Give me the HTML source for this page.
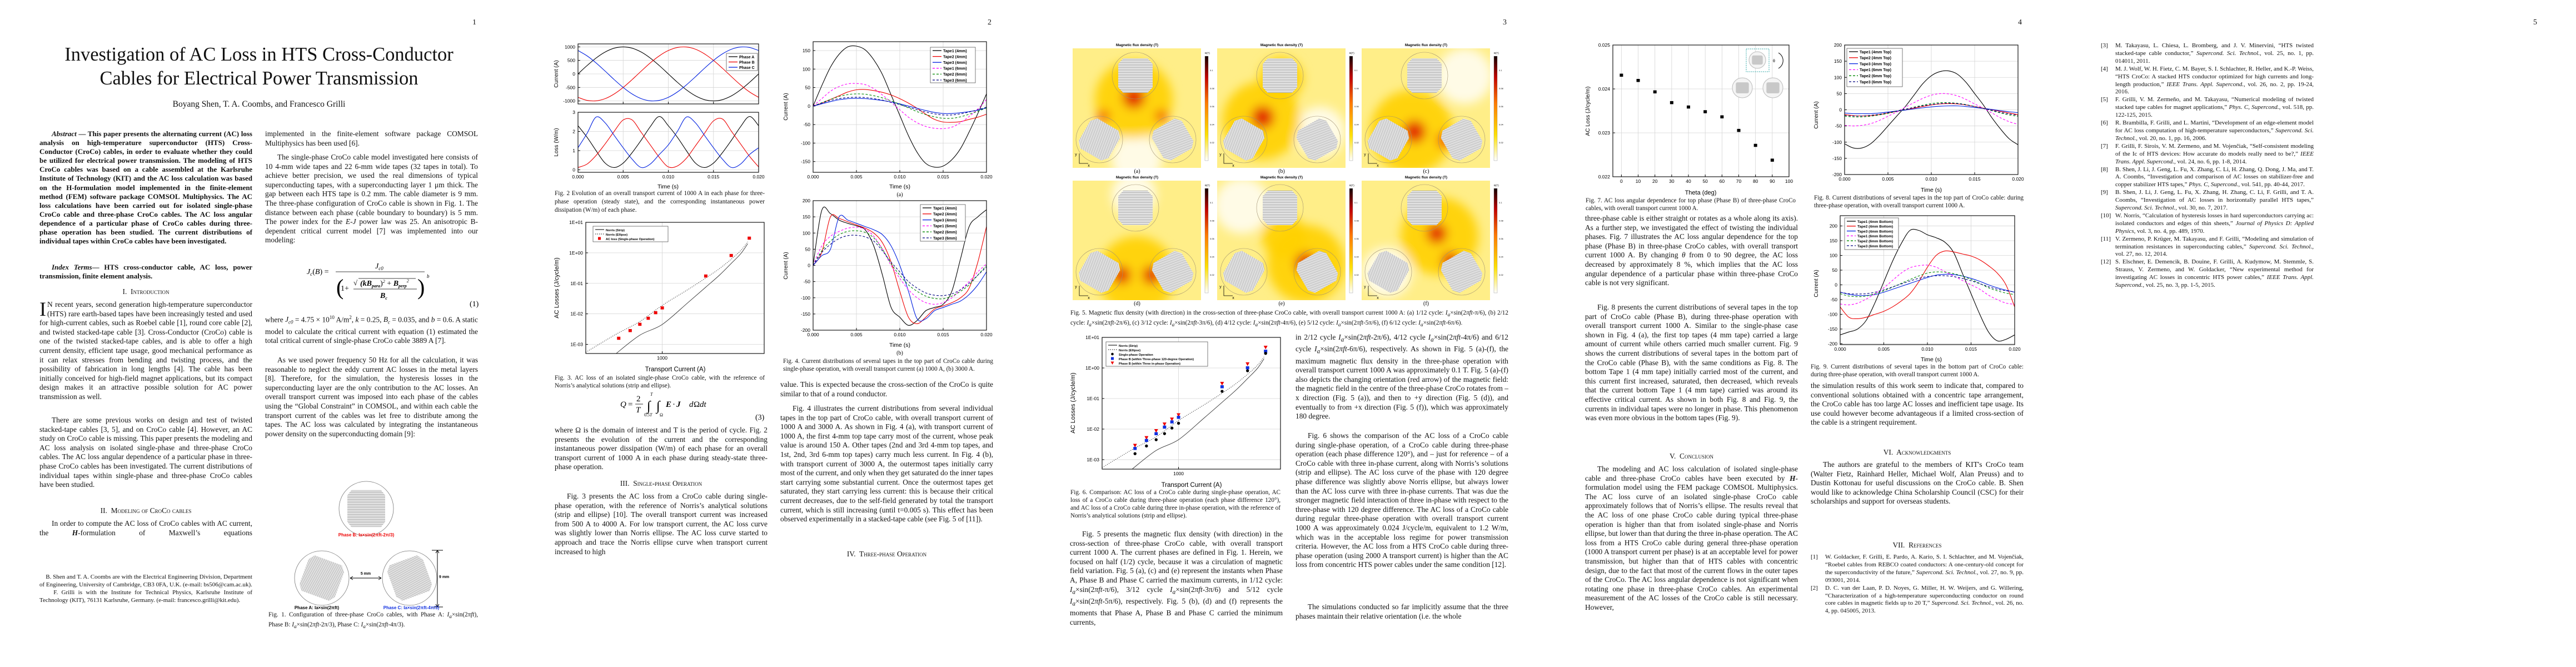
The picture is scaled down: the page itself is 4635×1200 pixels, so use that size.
<!DOCTYPE html>
<html><head><meta charset="utf-8">
<style>
html,body{margin:0;padding:0;background:#fff;}
body{width:4635px;height:1200px;position:relative;overflow:hidden;font-family:"Liberation Serif",serif;color:#111;}
.pg{position:absolute;top:0;width:927px;height:1200px;background:#fff;}
.pn{position:absolute;top:33px;left:850px;font-size:14px;}
.tx{position:absolute;width:383px;font-size:13.4px;line-height:16.6px;text-align:justify;margin:0;}
.ind{text-indent:22px;}
.hd{position:absolute;width:383px;text-align:center;font-size:13.4px;line-height:16px;font-variant:small-caps;}
.cap{position:absolute;font-size:11.2px;line-height:14.2px;text-align:justify;margin:0;}
.ref{position:absolute;width:383px;font-size:11px;line-height:13.9px;}
.ref div{display:flex;text-align:justify;}
.ref div span.n{flex:0 0 26px;}
.ref div span.t{flex:1;}
#ov{position:absolute;left:0;top:0;}
</style></head>
<body>

<!-- PAGE 1 -->
<div class="pg" style="left:0">
<div class="pn">1</div>
<div style="position:absolute;left:40px;width:852px;top:77px;text-align:center;font-size:34.5px;line-height:43px;">Investigation of AC Loss in HTS Cross-Conductor<br>Cables for Electrical Power Transmission</div>
<div style="position:absolute;left:40px;width:852px;top:179px;text-align:center;font-size:15.5px;">Boyang Shen, T. A. Coombs, and Francesco Grilli</div>
<p class="tx" style="left:71px;top:233px;font-weight:bold;font-size:13px;line-height:16.1px;text-indent:22px"><i>Abstract</i> — This paper presents the alternating current (AC) loss analysis on high-temperature superconductor (HTS) Cross-Conductor (CroCo) cables, in order to evaluate whether they could be utilized for electrical power transmission. The modeling of HTS CroCo cables was based on a cable assembled at the Karlsruhe Institute of Technology (KIT) and the AC loss calculation was based on the H-formulation model implemented in the finite-element method (FEM) software package COMSOL Multiphysics. The AC loss calculations have been carried out for isolated single-phase CroCo cable and three-phase CroCo cables. The AC loss angular dependence of a particular phase of CroCo cables during three-phase operation has been studied. The current distributions of individual tapes within CroCo cables have been investigated.</p>
<p class="tx" style="left:71px;top:473px;font-weight:bold;font-size:13px;line-height:16.1px;text-indent:22px"><i>Index Terms</i>— HTS cross-conductor cable, AC loss, power transmission, finite element analysis.</p>
<div class="hd" style="left:71px;top:517px">I.&nbsp; Introduction</div>
<p class="tx" style="left:71px;top:540px"><span style="float:left;font-size:36px;line-height:30px;margin:1px 2px 0 0">I</span>N recent years, second generation high-temperature superconductor (HTS) rare earth-based tapes have been increasingly tested and used for high-current cables, such as Roebel cable [1], round core cable [2], and twisted stacked-tape cable [3]. Cross-Conductor (CroCo) cable is one of the twisted stacked-tape cables, and is able to offer a high current density, efficient tape usage, good mechanical performance as it can relax stresses from bending and twisting process, and the possibility of fabrication in long lengths [4]. The cable has been initially conceived for high-field magnet applications, but its compact design makes it an attractive possible solution for AC power transmission as well.</p>
<p class="tx ind" style="left:71px;top:748px">There are some previous works on design and test of twisted stacked-tape cables [3, 5], and on CroCo cable [4]. However, an AC study on CroCo cable is missing. This paper presents the modeling and AC loss analysis on isolated single-phase and three-phase CroCo cables. The AC loss angular dependence of a particular phase in three-phase CroCo cables has been investigated. The current distributions of individual tapes within single-phase and three-phase CroCo cables have been studied.</p>
<div class="hd" style="left:71px;top:911px">II.&nbsp; Modeling of CroCo cables</div>
<p class="tx ind" style="left:71px;top:934px;text-align-last:justify">In order to compute the AC loss of CroCo cables with AC current, the <b><i>H</i></b>-formulation of Maxwell’s equations</p>
<p class="cap" style="left:71px;top:1031px;width:383px;font-size:11px;line-height:14px">&nbsp;&nbsp;&nbsp;&nbsp;B. Shen and T. A. Coombs are with the Electrical Engineering Division, Department of Engineering, University of Cambridge, CB3 0FA, U.K. (e-mail: bs506@cam.ac.uk).<br>&nbsp;&nbsp;&nbsp;&nbsp;F. Grilli is with the Institute for Technical Physics, Karlsruhe Institute of Technology (KIT), 76131 Karlsruhe, Germany. (e-mail: francesco.grilli@kit.edu).</p>

<p class="tx" style="left:477px;top:233px">implemented in the finite-element software package COMSOL Multiphysics has been used [6].</p>
<p class="tx ind" style="left:477px;top:275px">The single-phase CroCo cable model investigated here consists of 10 4-mm wide tapes and 22 6-mm wide tapes (32 tapes in total). To achieve better precision, we used the real dimensions of typical superconducting tapes, with a superconducting layer 1 μm thick. The gap between each HTS tape is 0.2 mm. The cable diameter is 9 mm. The three-phase configuration of CroCo cable is shown in Fig. 1. The distance between each phase (cable boundary to boundary) is 5 mm. The power index for the <i>E-J</i> power law was 25. An anisotropic B-dependent critical current model [7] was implemented into our modeling:</p>
<p class="tx" style="left:477px;top:563px">where <i>J<sub style="font-size:9px">c0</sub></i> = 4.75 × 10<sup style="font-size:9px">10</sup> A/m<sup style="font-size:9px">2</sup>, <i>k</i> = 0.25, <i>B<sub style="font-size:9px">c</sub></i> = 0.035, and <i>b</i> = 0.6. A static model to calculate the critical current with equation (1) estimated the total critical current of single-phase CroCo cable 3889 A [7].</p>
<p class="tx ind" style="left:477px;top:640px">As we used power frequency 50 Hz for all the calculation, it was reasonable to neglect the eddy current AC losses in the metal layers [8]. Therefore, for the simulation, the hysteresis losses in the superconducting layer are the only contribution to the AC losses. An overall transport current was imposed into each phase of the cables using the “Global Constraint” in COMSOL, and within each cable the transport current of the cables was let free to distribute among the tapes. The AC loss was calculated by integrating the instantaneous power density on the superconducting domain [9]:</p>
<p class="cap" style="left:483px;top:1099px;width:377px">Fig. 1. Configuration of three-phase CroCo cables, with Phase A: <i>I<sub>a</sub></i>×sin(2<i>πft</i>), Phase B: <i>I<sub>a</sub></i>×sin(2<i>πft</i>-2π/3), Phase C: <i>I<sub>a</sub></i>×sin(2<i>πft</i>-4π/3).</p>
</div>

<!-- PAGE 2 -->
<div class="pg" style="left:927px">
<div class="pn">2</div>
<p class="cap" style="left:71px;top:341px;width:378px;line-height:15px">Fig. 2 Evolution of an overall transport current of 1000 A in each phase for three-phase operation (steady state), and the corresponding instantaneous power dissipation (W/m) of each phase.</p>
<p class="cap" style="left:71px;top:673px;width:378px">Fig. 3. AC loss of an isolated single-phase CroCo cable, with the reference of Norris’s analytical solutions (strip and ellipse).</p>
<p class="tx" style="left:71px;top:766px">where Ω is the domain of interest and T is the period of cycle. Fig. 2 presents the evolution of the current and the corresponding instantaneous power dissipation (W/m) of each phase for an overall transport current of 1000 A in each phase during steady-state three-phase operation.</p>
<div class="hd" style="left:71px;top:862px">III.&nbsp; Single-phase Operation</div>
<p class="tx ind" style="left:71px;top:885px">Fig. 3 presents the AC loss from a CroCo cable during single-phase operation, with the reference of Norris’s analytical solutions (strip and ellipse) [10]. The overall transport current was increased from 500 A to 4000 A. For low transport current, the AC loss curve was slightly lower than Norris ellipse. The AC loss curve started to approach and trace the Norris ellipse curve when transport current increased to high</p>
<p class="cap" style="left:482px;top:643px;width:378px">Fig. 4. Current distributions of several tapes in the top part of CroCo cable during single-phase operation, with overall transport current (a) 1000 A, (b) 3000 A.</p>
<p class="tx" style="left:477px;top:684px">value. This is expected because the cross-section of the CroCo is quite similar to that of a round conductor.</p>
<p class="tx ind" style="left:477px;top:727px">Fig. 4 illustrates the current distributions from several individual tapes in the top part of CroCo cable, with overall transport current of 1000 A and 3000 A. As shown in Fig. 4 (a), with transport current of 1000 A, the first 4-mm top tape carry most of the current, whose peak value is around 150 A. Other tapes (2nd and 3rd 4-mm top tapes, and 1st, 2nd, 3rd 6-mm top tapes) carry much less current. In Fig. 4 (b), with transport current of 3000 A, the outermost tapes initially carry most of the current, and only when they get saturated do the inner tapes start carrying some substantial current. Once the outermost tapes get saturated, they start carrying less current: this is because their critical current decreases, due to the self-field generated by total the transport current, which is still increasing (until t=0.005 s). This effect has been observed experimentally in a stacked-tape cable (see Fig. 5 of [11]).</p>
<div class="hd" style="left:477px;top:989px">IV.&nbsp; Three-phase Operation</div>
</div>

<!-- PAGE 3 -->
<div class="pg" style="left:1854px">
<div class="pn">3</div>
<p class="cap" style="left:72px;top:556px;width:788px">Fig. 5. Magnetic flux density (with direction) in the cross-section of three-phase CroCo cable, with overall transport current 1000 A: (a) 1/12 cycle: <i>I<sub>a</sub></i>×sin(2<i>πft</i>-π/6), (b) 2/12 cycle: <i>I<sub>a</sub></i>×sin(2<i>πft</i>-2π/6), (c) 3/12 cycle: <i>I<sub>a</sub></i>×sin(2<i>πft</i>-3π/6), (d) 4/12 cycle: <i>I<sub>a</sub></i>×sin(2<i>πft</i>-4π/6), (e) 5/12 cycle: <i>I<sub>a</sub></i>×sin(2<i>πft</i>-5π/6), (f) 6/12 cycle: <i>I<sub>a</sub></i>×sin(2<i>πft</i>-6π/6).</p>
<p class="cap" style="left:72px;top:879px;width:378px;line-height:14px">Fig. 6. Comparison: AC loss of a CroCo cable during single-phase operation, AC loss of a CroCo cable during three-phase operation (each phase difference 120°), and AC loss of a CroCo cable during three in-phase operation, with the reference of Norris’s analytical solutions (strip and ellipse).</p>
<p class="tx ind" style="left:71px;top:953px">Fig. 5 presents the magnetic flux density (with direction) in the cross-section of three-phase CroCo cable, with overall transport current 1000 A. The current phases are defined in Fig. 1. Herein, we focused on half (1/2) cycle, because it was a circulation of magnetic field variation. Fig. 5 (a), (c) and (e) represent the instants when Phase A, Phase B and Phase C carried the maximum currents, in 1/12 cycle: <i>I<sub>a</sub></i>×sin(2<i>πft</i>-π/6), 3/12 cycle <i>I<sub>a</sub></i>×sin(2<i>πft</i>-3π/6) and 5/12 cycle <i>I<sub>a</sub></i>×sin(2<i>πft</i>-5π/6), respectively. Fig. 5 (b), (d) and (f) represents the moments that Phase A, Phase B and Phase C carried the minimum currents,</p>
<p class="tx" style="left:477px;top:599px">in 2/12 cycle <i>I<sub>a</sub></i>×sin(2<i>πft</i>-2π/6), 4/12 cycle <i>I<sub>a</sub></i>×sin(2<i>πft</i>-4π/6) and 6/12 cycle <i>I<sub>a</sub></i>×sin(2<i>πft</i>-6π/6), respectively. As shown in Fig. 5 (a)-(f), the maximum magnetic flux density in the three-phase operation with overall transport current 1000 A was approximately 0.1 T. Fig. 5 (a)-(f) also depicts the changing orientation (red arrow) of the magnetic field: the magnetic field in the centre of the three-phase CroCo rotates from –x direction (Fig. 5 (a)), and then to +y direction (Fig. 5 (d)), and eventually to from +x direction (Fig. 5 (f)), which was approximately 180 degree.</p>
<p class="tx ind" style="left:477px;top:776px">Fig. 6 shows the comparison of the AC loss of a CroCo cable during single-phase operation, of a CroCo cable during three-phase operation (each phase difference 120°), and – just for reference – of a CroCo cable with three in-phase current, along with Norris’s solutions (strip and ellipse). The AC loss curve of the phase with 120 degree phase difference was slightly above Norris ellipse, but always lower than the AC loss curve with three in-phase currents. That was due the stronger magnetic field interaction of three in-phase with respect to the three-phase with 120 degree difference. The AC loss of a CroCo cable during regular three-phase operation with overall transport current 1000 A was approximately 0.024 J/cycle/m, equivalent to 1.2 W/m, which was in the acceptable loss regime for power transmission criteria. However, the AC loss from a HTS CroCo cable during three-phase operation (using 2000 A transport current) is higher than the AC loss from concentric HTS power cables under the same condition [12].</p>
<p class="tx ind" style="left:477px;top:1084px">The simulations conducted so far implicitly assume that the three phases maintain their relative orientation (i.e. the whole</p>
</div>

<!-- PAGE 4 -->
<div class="pg" style="left:2781px">
<div class="pn">4</div>
<p class="cap" style="left:72px;top:354px;width:378px">Fig. 7. AC loss angular dependence for top phase (Phase B) of three-phase CroCo cables, with overall transport current 1000 A.</p>
<p class="tx" style="left:71px;top:385px">three-phase cable is either straight or rotates as a whole along its axis). As a further step, we investigated the effect of twisting the individual phases. Fig. 7 illustrates the AC loss angular dependence for the top phase (Phase B) in three-phase CroCo cables, with overall transport current 1000 A. By changing <i>θ</i> from 0 to 90 degree, the AC loss decreased by approximately 8 %, which implies that the AC loss angular dependence of a particular phase within three-phase CroCo cable is not very significant.</p>
<p class="tx ind" style="left:71px;top:545px">Fig. 8 presents the current distributions of several tapes in the top part of CroCo cable (Phase B), during three-phase operation with overall transport current 1000 A. Similar to the single-phase case shown in Fig. 4 (a), the first top tapes (4 mm tape) carried a large amount of current while others carried much smaller current. Fig. 9 shows the current distributions of several tapes in the bottom part of the CroCo cable (Phase B), with the same conditions as Fig. 8. The bottom Tape 1 (4 mm tape) initially carried most of the current, and this current first increased, saturated, then decreased, which reveals that the current bottom Tape 1 (4 mm tape) carried was around its effective critical current. As shown in both Fig. 8 and Fig. 9, the currents in individual tapes were no longer in phase. This phenomenon was even more obvious in the bottom tapes (Fig. 9).</p>
<div class="hd" style="left:71px;top:813px">V.&nbsp; Conclusion</div>
<p class="tx ind" style="left:71px;top:836px">The modeling and AC loss calculation of isolated single-phase cable and three-phase CroCo cables have been executed by <b><i>H</i></b>-formulation model using the FEM package COMSOL Multiphysics. The AC loss curve of an isolated single-phase CroCo cable approximately follows that of Norris’s ellipse. The results reveal that the AC loss of one phase CroCo cable during typical three-phase operation is higher than that from isolated single-phase and Norris ellipse, but lower than that during the three in-phase operation. The AC loss from a HTS CroCo cable during general three-phase operation (1000 A transport current per phase) is at an acceptable level for power transmission, but higher than that of HTS cables with concentric design, due to the fact that most of the current flows in the outer tapes of the CroCo. The AC loss angular dependence is not significant when rotating one phase in three-phase CroCo cables. An experimental measurement of the AC losses of the CroCo cable is still necessary. However,</p>
<p class="cap" style="left:483px;top:349px;width:377px">Fig. 8. Current distributions of several tapes in the top part of CroCo cable: during three-phase operation, with overall transport current 1000 A.</p>
<p class="cap" style="left:477px;top:653px;width:383px">Fig. 9. Current distributions of several tapes in the bottom part of CroCo cable: during three-phase operation, with overall transport current 1000 A.</p>
<p class="tx" style="left:477px;top:686px">the simulation results of this work seem to indicate that, compared to conventional solutions obtained with a concentric tape arrangement, the CroCo cable has too large AC losses and inefficient tape usage. Its use could however become advantageous if a limited cross-section of the cable is a stringent requirement.</p>
<div class="hd" style="left:477px;top:806px">VI.&nbsp; Acknowledgments</div>
<p class="tx ind" style="left:477px;top:828px">The authors are grateful to the members of KIT's CroCo team (Walter Fietz, Rainhard Heller, Michael Wolf, Alan Preuss) and to Dustin Kottonau for useful discussions on the CroCo cable. B. Shen would like to acknowledge China Scholarship Council (CSC) for their scholarships and support for overseas students.</p>
<div class="hd" style="left:477px;top:973px">VII.&nbsp; References</div>
<div class="ref" style="left:477px;top:996px">
<div><span class="n">[1]</span><span class="t">W. Goldacker, F. Grilli, E. Pardo, A. Kario, S. I. Schlachter, and M. Vojenčiak, “Roebel cables from REBCO coated conductors: A one-century-old concept for the superconductivity of the future,” <i>Supercond. Sci. Technol.</i>, vol. 27, no. 9, pp. 093001, 2014.</span></div>
<div><span class="n">[2]</span><span class="t">D. C. van der Laan, P. D. Noyes, G. Miller, H. W. Weijers, and G. Willering, “Characterization of a high-temperature superconducting conductor on round core cables in magnetic fields up to 20 T,” <i>Supercond. Sci. Technol.</i>, vol. 26, no. 4, pp. 045005, 2013.</span></div>
</div>
</div>

<!-- PAGE 5 -->
<div class="pg" style="left:3708px">
<div class="pn">5</div>
<div class="ref" style="left:72px;top:76px">
<div><span class="n">[3]</span><span class="t">M. Takayasu, L. Chiesa, L. Bromberg, and J. V. Minervini, “HTS twisted stacked-tape cable conductor,” <i>Supercond. Sci. Technol.</i>, vol. 25, no. 1, pp. 014011, 2011.</span></div>
<div><span class="n">[4]</span><span class="t">M. J. Wolf, W. H. Fietz, C. M. Bayer, S. I. Schlachter, R. Heller, and K.-P. Weiss, “HTS CroCo: A stacked HTS conductor optimized for high currents and long-length production,” <i>IEEE Trans. Appl. Supercond.</i>, vol. 26, no. 2, pp. 19-24, 2016.</span></div>
<div><span class="n">[5]</span><span class="t">F. Grilli, V. M. Zermeño, and M. Takayasu, “Numerical modeling of twisted stacked tape cables for magnet applications,” <i>Phys. C, Supercond.</i>, vol. 518, pp. 122-125, 2015.</span></div>
<div><span class="n">[6]</span><span class="t">R. Brambilla, F. Grilli, and L. Martini, “Development of an edge-element model for AC loss computation of high-temperature superconductors,” <i>Supercond. Sci. Technol.</i>, vol. 20, no. 1, pp. 16, 2006.</span></div>
<div><span class="n">[7]</span><span class="t">F. Grilli, F. Sirois, V. M. Zermeno, and M. Vojenčiak, “Self-consistent modeling of the Ic of HTS devices: How accurate do models really need to be?,” <i>IEEE Trans. Appl. Supercond.</i>, vol. 24, no. 6, pp. 1-8, 2014.</span></div>
<div><span class="n">[8]</span><span class="t">B. Shen, J. Li, J. Geng, L. Fu, X. Zhang, C. Li, H. Zhang, Q. Dong, J. Ma, and T. A. Coombs, “Investigation and comparison of AC losses on stabilizer-free and copper stabilizer HTS tapes,” <i>Phys. C, Supercond.</i>, vol. 541, pp. 40-44, 2017.</span></div>
<div><span class="n">[9]</span><span class="t">B. Shen, J. Li, J. Geng, L. Fu, X. Zhang, H. Zhang, C. Li, F. Grilli, and T. A. Coombs, “Investigation of AC losses in horizontally parallel HTS tapes,” <i>Supercond. Sci. Technol.</i>, vol. 30, no. 7, 2017.</span></div>
<div><span class="n">[10]</span><span class="t">W. Norris, “Calculation of hysteresis losses in hard superconductors carrying ac: isolated conductors and edges of thin sheets,” <i>Journal of Physics D: Applied Physics</i>, vol. 3, no. 4, pp. 489, 1970.</span></div>
<div><span class="n">[11]</span><span class="t">V. Zermeno, P. Krüger, M. Takayasu, and F. Grilli, “Modeling and simulation of termination resistances in superconducting cables,” <i>Supercond. Sci. Technol.</i>, vol. 27, no. 12, 2014.</span></div>
<div><span class="n">[12]</span><span class="t">S. Elschner, E. Demencik, B. Douine, F. Grilli, A. Kudymow, M. Stemmle, S. Strauss, V. Zermeno, and W. Goldacker, “New experimental method for investigating AC losses in concentric HTS power cables,” <i>IEEE Trans. Appl. Supercond.</i>, vol. 25, no. 3, pp. 1-5, 2015.</span></div>
</div>
</div>

<svg id="ov" width="4635" height="1200" xmlns="http://www.w3.org/2000/svg" font-family="Liberation Sans, sans-serif">
<defs>
<pattern id="hatchH" width="4" height="3" patternUnits="userSpaceOnUse"><rect width="4" height="3" fill="#ececec"/><line x1="0" y1="1.5" x2="4" y2="1.5" stroke="#8a8a8a" stroke-width="0.7"/></pattern>
<pattern id="hatchD" width="3" height="3" patternUnits="userSpaceOnUse" patternTransform="rotate(45)"><rect width="3" height="3" fill="#e8e8e8"/><line x1="0" y1="1.5" x2="3" y2="1.5" stroke="#8f8f8f" stroke-width="0.6"/></pattern>
<linearGradient id="cbar" x1="0" y1="1" x2="0" y2="0"><stop offset="0" stop-color="#fff"/><stop offset="0.25" stop-color="#ffe000"/><stop offset="0.55" stop-color="#ff7a00"/><stop offset="0.8" stop-color="#c00000"/><stop offset="1" stop-color="#100000"/></linearGradient>
<filter id="blur" x="-50%" y="-50%" width="200%" height="200%"><feGaussianBlur stdDeviation="9"/></filter>
</defs>

<!-- Equation 1 on page 1 -->
<g font-family="Liberation Serif, serif" font-size="14">
<text x="552" y="493" font-style="italic">J<tspan font-size="9" dy="3">c</tspan><tspan dy="-3" font-style="normal">(</tspan>B<tspan font-style="normal">) =</tspan></text>
<text x="675" y="483" font-style="italic">J<tspan font-size="9" dy="3">c0</tspan></text>
<line x1="604" y1="489" x2="764" y2="489" stroke="#000" stroke-width="0.8"/>
<text x="605" y="530" font-size="40" font-weight="100">(</text>
<text x="751" y="530" font-size="40" font-weight="100">)</text>
<text x="768" y="500" font-size="9" font-style="italic">b</text>
<text x="613" y="523">1+</text>
<text x="636" y="513" font-size="13">√</text>
<line x1="645" y1="501" x2="748" y2="501" stroke="#000" stroke-width="0.7"/>
<text x="648" y="514" font-weight="bold" font-style="italic">(kB<tspan font-size="8" dy="3">para</tspan><tspan dy="-3" font-weight="normal" font-style="normal">)</tspan><tspan font-size="8" dy="-5" font-weight="normal">2</tspan><tspan dy="5" font-weight="normal" font-style="normal"> + </tspan>B<tspan font-size="8" dy="3">perp</tspan><tspan font-size="8" dy="-9" font-weight="normal">2</tspan></text>
<line x1="636" y1="520" x2="750" y2="520" stroke="#000" stroke-width="0.7"/>
<text x="684" y="536" font-weight="bold" font-style="italic">B<tspan font-size="8" dy="3">c</tspan></text>
<text x="845" y="551" font-style="normal">(1)</text>
</g>

<!-- Equation 3 on page 2 -->
<g font-family="Liberation Serif, serif" font-size="15">
<text x="1116" y="732" font-style="italic">Q</text><text x="1130" y="732">=</text>
<text x="1145" y="722">2</text><line x1="1143" y1="727" x2="1157" y2="727" stroke="#000" stroke-width="0.8"/><text x="1144" y="742" font-style="italic">T</text>
<text x="1164" y="738" font-size="24">∫</text><text x="1170" y="712" font-size="8" font-style="italic">T</text><text x="1159" y="749" font-size="8">0.5<tspan font-style="italic">T</tspan></text>
<text x="1181" y="738" font-size="24">∫</text><text x="1187" y="749" font-size="8">Ω</text>
<text x="1198" y="732" font-weight="bold" font-style="italic">E</text><text x="1210" y="732">·</text><text x="1217" y="732" font-weight="bold" font-style="italic">J</text>
<text x="1240" y="732" font-style="italic">d</text><text x="1248" y="732">Ω</text><text x="1259" y="732" font-style="italic">dt</text>
<text x="1359" y="755" font-size="14">(3)</text>
</g>
</svg>

<script>
// ===================== DATA =====================
const timeAxis = [0,0.001,0.002,0.003,0.004,0.005,0.006,0.007,0.008,0.009,0.010,0.011,0.012,0.013,0.014,0.015,0.016,0.017,0.018,0.019,0.020];
// Fig 2 (top): phase currents (A)
const phaseA = [0,309,588,809,951,1000,951,809,588,309,0,-309,-588,-809,-951,-1000,-951,-809,-588,-309,0];
const phaseB = [-866,-978,-995,-914,-743,-500,-208,105,407,669,866,978,995,914,743,500,208,-105,-407,-669,-866];
const phaseC = [866,669,407,105,-208,-500,-743,-914,-995,-978,-866,-669,-407,-105,208,500,743,914,995,978,866];
// Fig 2 (bottom): instantaneous loss (W/m)
const lossA = [2.3,1.7,1.0,0.35,0.12,0.35,0.9,1.55,2.25,2.78,2.3,1.7,1.0,0.35,0.12,0.35,0.9,1.55,2.25,2.78,2.3];
const lossB = [0.12,0.3,0.75,1.35,2.0,2.6,2.6,1.95,1.3,0.65,0.15,0.2,0.6,1.25,1.9,2.55,2.65,2.0,1.35,0.7,0.15];
const lossC = [1.15,1.9,2.75,2.45,1.8,1.15,0.55,0.12,0.3,0.8,1.3,2.0,2.75,2.45,1.8,1.15,0.55,0.12,0.3,0.8,1.15];
const timeTicks = [0,0.005,0.010,0.015,0.020];
const timeTickLabels = ["0.000","0.005","0.010","0.015","0.020"];
const fig2aTicks = [1000,500,0,-500,-1000];
const fig2aTickLabels = ["1000","500","0","-500","-1000"];
const fig2bTicks = [0,1,2,3];
const fig2bTickLabels = ["0","1","2","3"];
// Fig 3 / Fig 6: AC loss vs transport current
const transportCurrent = [500,600,700,800,900,1000,2000,3000,4000];
const lossSingle = [1.57e-3,2.8e-3,4.5e-3,7.1e-3,1.08e-2,1.55e-2,0.172,0.81,3.0];
const lossThree120 = [2.3e-3,4.2e-3,7.0e-3,1.15e-2,1.7e-2,2.4e-2,0.24,1.0,3.5];
const lossInPhase = [2.9e-3,5.2e-3,8.8e-3,1.45e-2,2.1e-2,2.9e-2,0.31,1.35,4.7];
const ellipseCurrent = [296,400,500,700,1000,1500,2000,2500,3000,3500,3900];
const ellipseLoss = [5.5e-4,1.3e-3,2.4e-3,5.6e-3,0.019,0.062,0.15,0.31,0.62,1.2,2.3];
const stripCurrent = [480,700,1000,1500,2000,2500,3000,3500,3900];
const stripLoss = [5e-4,2.0e-3,4.5e-3,2.3e-2,0.075,0.19,0.45,0.95,2.0];
const logLossTicks = [10,1,0.1,0.01,0.001];
const logLossTickLabels = ["1E+01","1E+00","1E-01","1E-02","1E-03"];
const currentTicks = [1000];
const currentTickLabels = ["1000"];
// Fig 4a: single-phase 1000 A, tape currents (A)
const f4aT1_4 = [0,55,105,140,160,162,152,125,85,30,-25,-80,-125,-155,-165,-162,-145,-115,-70,-20,33];
const f4aT2_4 = [0,8,18,28,38,44,45,42,37,30,20,8,-6,-22,-36,-43,-44,-42,-36,-30,-22];
const f4aT3_4 = [0,6,12,17,20,21,20,18,15,11,6,0,-6,-12,-17,-20,-20,-18,-15,-11,-5];
const f4aT1_6 = [0,20,40,53,60,61,58,47,30,10,-10,-30,-45,-55,-60,-61,-57,-45,-28,-8,18];
const f4aT2_6 = [0,9,18,26,31,33,32,28,22,14,5,-5,-15,-23,-29,-33,-33,-29,-22,-14,-5];
const f4aT3_6 = [0,8,15,20,23,24,23,20,16,10,4,-3,-10,-16,-21,-24,-24,-21,-16,-10,-3];
const f4aTicks = [150,100,50,0,-50,-100,-150];
const f4aTickLabels = ["150","100","50","0","-50","-100","-150"];
// Fig 4b: single-phase 3000 A
const f4bT1_4 = [0,170,160,140,130,122,110,60,-30,-130,-160,-185,-170,-140,-130,-120,-80,20,120,150,172];
const f4bT2_4 = [0,40,150,145,135,125,115,100,70,10,-80,-160,-180,-160,-135,-125,-115,-100,-70,10,120];
const f4bT3_4 = [0,30,50,150,140,130,120,110,95,60,0,-80,-165,-165,-140,-130,-120,-110,-90,-60,-20];
const f4bT1_6 = [0,60,90,105,115,118,112,90,50,0,-40,-75,-100,-115,-120,-115,-100,-75,-50,-20,5];
const f4bT2_6 = [0,45,75,95,105,107,102,85,50,5,-30,-60,-80,-95,-102,-103,-95,-80,-60,-30,0];
const f4bT3_6 = [0,40,65,83,92,93,88,75,45,10,-20,-50,-70,-85,-92,-93,-88,-75,-55,-30,-5];
const f200Ticks = [200,150,100,50,0,-50,-100,-150,-200];
const f200TickLabels = ["200","150","100","50","0","-50","-100","-150","-200"];
// Fig 7: angular dependence
const thetaDeg = [0,10,20,30,40,50,60,70,80,90];
const angularLoss = [0.02431,0.02419,0.02393,0.023685,0.023585,0.023478,0.023361,0.023052,0.022712,0.022375];
const thetaTicks = [0,10,20,30,40,50,60,70,80,90,100];
const thetaTickLabels = ["0","10","20","30","40","50","60","70","80","90","100"];
const angLossTicks = [0.025,0.024,0.023,0.022];
const angLossTickLabels = ["0.025","0.024","0.023","0.022"];
// Fig 8: three-phase top tapes
const f8T1_4 = [-105,-118,-118,-105,-80,-50,-20,10,45,80,105,118,120,110,85,50,15,-25,-60,-90,-108];
const f8T2_4 = [-15,-18,-19,-18,-15,-10,-5,0,5,10,15,18,19,18,15,10,5,0,-5,-10,-15];
const f8T3_4 = [-10,-12,-12,-12,-10,-7,-4,-1,3,6,9,11,12,12,10,7,4,1,-3,-6,-9];
const f8T1_6 = [-48,-50,-48,-43,-33,-20,-7,8,22,35,45,50,49,43,32,18,5,-10,-25,-37,-45];
const f8T2_6 = [-20,-22,-22,-20,-16,-11,-5,1,8,14,19,22,22,20,16,10,4,-3,-10,-16,-20];
const f8T3_6 = [-17,-19,-19,-17,-14,-9,-4,2,7,12,16,19,20,19,15,10,4,-2,-8,-13,-17];
// Fig 9: three-phase bottom tapes
const f9T1_4 = [-170,-160,-150,-120,-60,10,80,140,185,185,170,160,145,110,40,-30,-100,-160,-190,-185,-170];
const f9T2_4 = [-75,-110,-115,-110,-100,-90,-75,-55,-30,10,60,100,115,112,105,98,85,65,40,0,-75];
const f9T3_4 = [-25,-32,-36,-36,-33,-25,-15,-5,5,15,25,33,36,35,30,22,12,0,-10,-18,-25];
const f9T1_6 = [-65,-68,-62,-48,-30,-10,15,40,58,65,67,60,45,30,15,0,-15,-35,-50,-62,-66];
const f9T2_6 = [-30,-38,-40,-38,-30,-20,-8,5,18,30,40,44,43,38,30,18,5,-10,-20,-28,-33];
const f9T3_6 = [-25,-30,-31,-30,-25,-17,-7,3,13,22,28,31,31,28,22,14,4,-6,-15,-20,-24];
const f9Ticks = [200,150,100,50,0,-50,-100,-150,-200];
const f9TickLabels = ["200","150","100","50","0","-50","-100","-150","-200"];

// ===================== DRAWING =====================
const NS = 'http://www.w3.org/2000/svg';
const OV = document.getElementById('ov');
let clipId = 0;
function el(tag, parent) { const e = document.createElementNS(NS, tag); (parent || OV).appendChild(e); return e; }
function makeScale(d0, d1, r0, r1, log) {
  const f = log ? Math.log10 : (v => v);
  const a = f(d0), b = f(d1);
  return v => r0 + (f(v) - a) / (b - a) * (r1 - r0);
}
function smooth(pts) {
  let d = 'M' + pts[0][0].toFixed(1) + ',' + pts[0][1].toFixed(1);
  for (let i = 0; i < pts.length - 1; i++) {
    const p0 = pts[Math.max(i - 1, 0)], p1 = pts[i], p2 = pts[i + 1], p3 = pts[Math.min(i + 2, pts.length - 1)];
    const c1 = [p1[0] + (p2[0] - p0[0]) / 6, p1[1] + (p2[1] - p0[1]) / 6];
    const c2 = [p2[0] - (p3[0] - p1[0]) / 6, p2[1] - (p3[1] - p1[1]) / 6];
    d += 'C' + c1[0].toFixed(1) + ',' + c1[1].toFixed(1) + ' ' + c2[0].toFixed(1) + ',' + c2[1].toFixed(1) + ' ' + p2[0].toFixed(1) + ',' + p2[1].toFixed(1);
  }
  return d;
}
function txt(parent, x, y, s, size, anchor, extra) {
  const t = el('text', parent);
  t.setAttribute('x', x); t.setAttribute('y', y);
  t.setAttribute('font-size', size);
  t.setAttribute('text-anchor', anchor || 'start');
  if (extra) t.setAttribute('transform', extra);
  t.textContent = s;
  
  
  return t;
}
function chart(name, box, xd, yd, xlog, ylog, xt, xtl, yt, ytl) {
  const [x, y, w, h] = box;
  const g = el('g');
  
  
  const sx = makeScale(xd[0], xd[1], x, x + w, xlog);
  const sy = makeScale(yd[0], yd[1], y + h, y, ylog);
  const grid = el('g', g);
  
  
  xt.forEach((v, i) => {
    const X = sx(v);
    const l = el('line', grid);
    l.setAttribute('x1', X); l.setAttribute('x2', X); l.setAttribute('y1', y); l.setAttribute('y2', y + h);
    l.setAttribute('stroke', '#d4d4d4'); l.setAttribute('stroke-width', '0.8');
    
    
    const tk = el('line', g);
    tk.setAttribute('x1', X); tk.setAttribute('x2', X); tk.setAttribute('y1', y + h); tk.setAttribute('y2', y + h - 4);
    tk.setAttribute('stroke', '#000');
    
    
    if (xtl[i] !== undefined && xtl[i] !== '') txt(g, X, y + h + 11, xtl[i], 8.5, 'middle');
  });
  yt.forEach((v, i) => {
    const Y = sy(v);
    const l = el('line', grid);
    l.setAttribute('x1', x); l.setAttribute('x2', x + w); l.setAttribute('y1', Y); l.setAttribute('y2', Y);
    l.setAttribute('stroke', '#d4d4d4'); l.setAttribute('stroke-width', '0.8');
    
    
    const tk = el('line', g);
    tk.setAttribute('x1', x); tk.setAttribute('x2', x + 4); tk.setAttribute('y1', Y); tk.setAttribute('y2', Y);
    tk.setAttribute('stroke', '#000');
    
    
    if (ytl[i] !== undefined) txt(g, x - 5, Y + 3, ytl[i], 8.5, 'end');
  });
  const cp = el('clipPath', g);
  const cid = 'clip' + (clipId++);
  cp.setAttribute('id', cid);
  const cr = el('rect', cp);
  cr.setAttribute('x', x); cr.setAttribute('y', y); cr.setAttribute('width', w); cr.setAttribute('height', h);
  const plot = el('g', g);
  plot.setAttribute('clip-path', 'url(#' + cid + ')');
  
  
  const frame = el('rect', g);
  frame.setAttribute('x', x); frame.setAttribute('y', y); frame.setAttribute('width', w); frame.setAttribute('height', h);
  frame.setAttribute('fill', 'none'); frame.setAttribute('stroke', '#000'); frame.setAttribute('stroke-width', '1.1');
  
  
  return { g, plot, sx, sy, box };
}
function line(c, xs, ys, color, dash, width, name) {
  const p = el('path', c.plot);
  p.setAttribute('d', smooth(xs.map((v, i) => [c.sx(v), c.sy(ys[i])])));
  p.setAttribute('fill', 'none'); p.setAttribute('stroke', color);
  p.setAttribute('stroke-width', width || 1.2);
  if (dash) p.setAttribute('stroke-dasharray', dash);
  
  
}
function markers(c, xs, ys, shape, color, name) {
  xs.forEach((v, i) => {
    const X = c.sx(v), Y = c.sy(ys[i]);
    let m;
    if (shape === 'square') { m = el('rect', c.g); m.setAttribute('x', X - 3); m.setAttribute('y', Y - 3); m.setAttribute('width', 6); m.setAttribute('height', 5.5); }
    else if (shape === 'circle') { m = el('circle', c.g); m.setAttribute('cx', X); m.setAttribute('cy', Y); m.setAttribute('r', 2.7); }
    else { m = el('path', c.g); m.setAttribute('d', 'M' + (X - 3.5) + ',' + (Y - 3) + 'L' + (X + 3.5) + ',' + (Y - 3) + 'L' + X + ',' + (Y + 3.5) + 'Z'); }
    m.setAttribute('fill', color);
    
    
  });
}
function legend(name, x, y, w, h, items, step, size) {
  const g = el('g');
  
  
  const r = el('rect', g);
  r.setAttribute('x', x); r.setAttribute('y', y); r.setAttribute('width', w); r.setAttribute('height', h);
  r.setAttribute('fill', '#fff'); r.setAttribute('stroke', '#444'); r.setAttribute('stroke-width', '0.7');
  
  
  items.forEach((it, i) => {
    const yy = y + 6 + i * step;
    if (it[3]) {
      let m;
      if (it[3] === 'square') { m = el('rect', g); m.setAttribute('x', x + 9); m.setAttribute('y', yy - 2.5); m.setAttribute('width', 5); m.setAttribute('height', 5); }
      else if (it[3] === 'circle') { m = el('circle', g); m.setAttribute('cx', x + 11.5); m.setAttribute('cy', yy); m.setAttribute('r', 2.3); }
      else { m = el('path', g); m.setAttribute('d', 'M' + (x + 8.5) + ',' + (yy - 2.5) + 'L' + (x + 14.5) + ',' + (yy - 2.5) + 'L' + (x + 11.5) + ',' + (yy + 3) + 'Z'); }
      m.setAttribute('fill', it[1]);
      
      
    } else {
      const l = el('line', g);
      l.setAttribute('x1', x + 4); l.setAttribute('x2', x + 20); l.setAttribute('y1', yy); l.setAttribute('y2', yy);
      l.setAttribute('stroke', it[1]); l.setAttribute('stroke-width', '1.3');
      if (it[2]) l.setAttribute('stroke-dasharray', it[2]);
      
      
    }
    const t = txt(g, x + 23, yy + 2.8, it[0], size || 7.5, 'start');
    t.setAttribute('font-weight', 'bold');
  });
}

// ---- Fig 2 ----
const c2a = chart('fig2-current-chart', [1040, 79, 325, 108], [0, 0.02], [-1110, 1110], false, false, timeTicks, ["", "", "", "", ""], fig2aTicks, fig2aTickLabels);
line(c2a, timeAxis, phaseA, '#000', null, 1.1, 'phase-a-current');
line(c2a, timeAxis, phaseB, '#e00', null, 1.1, 'phase-b-current');
line(c2a, timeAxis, phaseC, '#0020e0', null, 1.1, 'phase-c-current');
legend('fig2-legend', 1307, 96, 56, 31, [["Phase A", "#000"], ["Phase B", "#e00"], ["Phase C", "#0020e0"]], 9.5, 7);
const c2b = chart('fig2-loss-chart', [1040, 202, 325, 108], [0, 0.02], [-0.13, 3.0], false, false, timeTicks, timeTickLabels, fig2bTicks, fig2bTickLabels);
line(c2b, timeAxis, lossA, '#000', null, 1.1, 'phase-a-loss');
line(c2b, timeAxis, lossB, '#e00', null, 1.1, 'phase-b-loss');
line(c2b, timeAxis, lossC, '#0020e0', null, 1.1, 'phase-c-loss');
txt(OV, 1004, 133, 'Current (A)', 10, 'middle', 'rotate(-90 1004 133)');
txt(OV, 1004, 256, 'Loss (W/m)', 10, 'middle', 'rotate(-90 1004 256)');
txt(OV, 1202, 339, 'Time (s)', 10.5, 'middle');

// ---- Fig 3 ----
const c3 = chart('fig3-chart', [1054, 400, 321, 236], [296, 5070], [Math.pow(10, -3.3), 10], true, true, currentTicks, currentTickLabels, logLossTicks, logLossTickLabels);
line(c3, stripCurrent, stripLoss, '#333', null, 0.9, 'norris-strip');
line(c3, ellipseCurrent, ellipseLoss, '#333', '1.5,2', 0.9, 'norris-ellipse');
markers(c3, transportCurrent, lossSingle, 'square', '#e00', 'ac-loss-single-phase');
legend('fig3-legend', 1067, 407, 135, 28, [["Norris (Strip)", "#333"], ["Norris (Ellipse)", "#333", "1.5,2"], ["AC loss (Single-phase Operation)", "#e00", null, "square"]], 8, 5.5);
txt(OV, 1005, 518, 'AC Losses (J/cycle/m)', 11, 'middle', 'rotate(-90 1005 518)');
txt(OV, 1215, 668, 'Transport Current (A)', 11.5, 'middle');

// ---- Fig 4a ----
const tapeStyles = [["Tape1 (4mm)", "#000", null], ["Tape2 (4mm)", "#e00", null], ["Tape3 (4mm)", "#0020e0", null], ["Tape1 (6mm)", "#f0f", "4,3"], ["Tape2 (6mm)", "#080", "4,3"], ["Tape3 (6mm)", "#000080", "4,3"]];
const c4a = chart('fig4a-chart', [1463, 75, 312, 235], [0, 0.02], [-179, 174], false, false, timeTicks, timeTickLabels, f4aTicks, f4aTickLabels);
[f4aT1_4, f4aT2_4, f4aT3_4, f4aT1_6, f4aT2_6, f4aT3_6].forEach((s, i) => line(c4a, timeAxis, s, tapeStyles[i][1], tapeStyles[i][2], 1.1, 'fig4a-tape-' + i));
legend('fig4a-legend', 1674, 85, 81, 64, tapeStyles, 10.6, 7);
txt(OV, 1417, 192, 'Current (A)', 10, 'middle', 'rotate(-90 1417 192)');
txt(OV, 1619, 339, 'Time (s)', 10.5, 'middle');
txt(OV, 1619, 353, '(a)', 10, 'middle').setAttribute('font-family', 'Liberation Serif, serif');

// ---- Fig 4b ----
const c4b = chart('fig4b-chart', [1463, 361, 312, 233], [0, 0.02], [-200, 200], false, false, timeTicks, timeTickLabels, f200Ticks, f200TickLabels);
[f4bT1_4, f4bT2_4, f4bT3_4, f4bT1_6, f4bT2_6, f4bT3_6].forEach((s, i) => line(c4b, timeAxis, s, tapeStyles[i][1], tapeStyles[i][2], 1.1, 'fig4b-tape-' + i));
legend('fig4b-legend', 1656, 368, 81, 66, tapeStyles, 10.8, 7);
txt(OV, 1417, 478, 'Current (A)', 10, 'middle', 'rotate(-90 1417 478)');
txt(OV, 1619, 624, 'Time (s)', 10.5, 'middle');
txt(OV, 1619, 638, '(b)', 10, 'middle').setAttribute('font-family', 'Liberation Serif, serif');

// ---- Fig 6 ----
const c6 = chart('fig6-chart', [1983, 607, 321, 237], [296, 5070], [Math.pow(10, -3.31), 10], true, true, currentTicks, currentTickLabels, logLossTicks, logLossTickLabels);
line(c6, stripCurrent, stripLoss, '#333', null, 0.9, 'norris-strip');
line(c6, ellipseCurrent, ellipseLoss, '#333', '1.5,2', 0.9, 'norris-ellipse');
markers(c6, transportCurrent, lossInPhase, 'triangle', '#e00', 'phase-b-in-phase');
markers(c6, transportCurrent, lossThree120, 'square', '#1030e0', 'phase-b-three-phase-120');
markers(c6, transportCurrent, lossSingle, 'circle', '#000', 'single-phase-operation');
legend('fig6-legend', 1990, 615, 183, 44, [["Norris (Strip)", "#333"], ["Norris (Ellipse)", "#333", "1.5,2"], ["Single-phase Operation", "#000", null, "circle"], ["Phase B (within Three-phase 120-degree Operation)", "#1030e0", null, "square"], ["Phase B (within Three in-phase Operation)", "#e00", null, "triangle"]], 8, 5.5);
txt(OV, 1934, 725, 'AC Losses (J/cycle/m)', 11, 'middle', 'rotate(-90 1934 725)');
txt(OV, 2144, 876, 'Transport Current (A)', 11.5, 'middle');

// ---- Fig 7 ----
const c7 = chart('fig7-chart', [2902, 81, 317, 237], [-5.1, 100], [0.022, 0.025], false, false, thetaTicks, thetaTickLabels, angLossTicks, angLossTickLabels);
markers(c7, thetaDeg, angularLoss, 'square', '#000', 'angular-loss-point');
txt(OV, 2860, 200, 'AC Loss (J/cycle/m)', 10, 'middle', 'rotate(-90 2860 200)');
txt(OV, 3060, 350, 'Theta (deg)', 11, 'middle');

// ---- Fig 8 ----
const tapeTop = [["Tape1 (4mm Top)", "#000", null], ["Tape2 (4mm Top)", "#e00", null], ["Tape3 (4mm Top)", "#0020e0", null], ["Tape1 (6mm Top)", "#f0f", "4,3"], ["Tape2 (6mm Top)", "#080", "4,3"], ["Tape3 (6mm Top)", "#000080", "4,3"]];
const c8 = chart('fig8-chart', [3319, 81, 312, 233], [0, 0.02], [-200, 200], false, false, timeTicks, timeTickLabels, f200Ticks, f200TickLabels);
[f8T1_4, f8T2_4, f8T3_4, f8T1_6, f8T2_6, f8T3_6].forEach((s, i) => line(c8, timeAxis, s, tapeTop[i][1], tapeTop[i][2], 1.1, 'fig8-tape-' + i));
legend('fig8-legend', 3323, 87, 100, 69, tapeTop, 10.8, 7);
txt(OV, 3271, 207, 'Current (A)', 10, 'middle', 'rotate(-90 3271 207)');
txt(OV, 3475, 345, 'Time (s)', 10.5, 'middle');

// ---- Fig 9 ----
const tapeBot = [["Tape1 (4mm Bottom)", "#000", null], ["Tape2 (4mm Bottom)", "#e00", null], ["Tape3 (4mm Bottom)", "#0020e0", null], ["Tape1 (6mm Bottom)", "#f0f", "4,3"], ["Tape2 (6mm Bottom)", "#080", "4,3"], ["Tape3 (6mm Bottom)", "#000080", "4,3"]];
const c9 = chart('fig9-chart', [3311, 388, 314, 232], [0, 0.02], [-203, 235], false, false, timeTicks, timeTickLabels, f9Ticks, f9TickLabels);
[f9T1_4, f9T2_4, f9T3_4, f9T1_6, f9T2_6, f9T3_6].forEach((s, i) => line(c9, timeAxis, s, tapeBot[i][1], tapeBot[i][2], 1.1, 'fig9-tape-' + i));
legend('fig9-legend', 3319, 392, 97, 57, tapeBot, 8.8, 6.5);
txt(OV, 3271, 510, 'Current (A)', 10, 'middle', 'rotate(-90 3271 510)');
txt(OV, 3475, 650, 'Time (s)', 10.5, 'middle');

// ---- Fig 7 inset ----
(function () {
  const g = el('g');
  
  
  const sq = el('rect', g);
  sq.setAttribute('x', 3142); sq.setAttribute('y', 88); sq.setAttribute('width', 41); sq.setAttribute('height', 41);
  sq.setAttribute('fill', 'none'); sq.setAttribute('stroke', '#3aa'); sq.setAttribute('stroke-dasharray', '2,1.5');
  
  
  [[3162, 108, 15], [3135, 158, 18], [3190, 158, 18]].forEach(c => {
    const ci = el('circle', g);
    ci.setAttribute('cx', c[0]); ci.setAttribute('cy', c[1]); ci.setAttribute('r', c[2]);
    ci.setAttribute('fill', '#f4f4f4'); ci.setAttribute('stroke', '#bbb');
    
    
    const oc = el('rect', g);
    oc.setAttribute('x', c[0] - c[2] * 0.65); oc.setAttribute('y', c[1] - c[2] * 0.55); oc.setAttribute('width', c[2] * 1.3); oc.setAttribute('height', c[2] * 1.1);
    oc.setAttribute('fill', '#c8c8c8'); oc.setAttribute('rx', 3);
    
    
  });
  const arc = el('path', g);
  arc.setAttribute('d', 'M3200,95 A16,16 0 0 1 3200,123');
  arc.setAttribute('fill', 'none'); arc.setAttribute('stroke', '#000');
  
  
  txt(g, 3192, 112, 'θ', 7, 'middle');
})();

// ---- Fig 5 heatmaps ----
const panelX = [1930, 2190, 2450];
const panelY = [87, 325];
const panelLabels = ["(a)", "(b)", "(c)", "(d)", "(e)", "(f)"];
const hotSpots = [
  [[110, 92, 70, '#ffd000'], [110, 88, 20, '#e01800'], [55, 122, 11, '#f04000'], [160, 122, 11, '#f04000']],
  [[80, 130, 70, '#ffd000'], [115, 55, 40, '#ffd000'], [82, 124, 20, '#e01800']],
  [[90, 150, 75, '#ffd000'], [95, 150, 20, '#e01800'], [150, 165, 14, '#f03000']],
  [[115, 170, 70, '#ffd000'], [88, 170, 16, '#e01800'], [142, 170, 16, '#e01800']],
  [[160, 150, 70, '#ffd000'], [160, 150, 20, '#e01800'], [120, 100, 40, '#ffd000']],
  [[140, 100, 70, '#ffd000'], [135, 95, 18, '#e01800'], [160, 145, 16, '#e01800']]
];
const coldSpots = [[115, 200, 45], [185, 150, 45], [185, 50, 50], [110, 25, 40], [45, 45, 50], [45, 165, 45]];
panelLabels.forEach((lab, k) => {
  const px = panelX[k % 3], py = panelY[Math.floor(k / 3)], pw = 231, ph = 215;
  const g = el('g');
  
  
  const cp = el('clipPath', g); cp.setAttribute('id', 'pc' + k);
  const cr = el('rect', cp); cr.setAttribute('x', px); cr.setAttribute('y', py); cr.setAttribute('width', pw); cr.setAttribute('height', ph);
  const inner = el('g', g); inner.setAttribute('clip-path', 'url(#pc' + k + ')');
  const bg = el('rect', inner);
  bg.setAttribute('x', px); bg.setAttribute('y', py); bg.setAttribute('width', pw); bg.setAttribute('height', ph); bg.setAttribute('fill', '#ffee88');
  
  
  const blobs = el('g', inner); blobs.setAttribute('filter', 'url(#blur)');
  const cs = coldSpots[k];
  const cold = el('circle', blobs);
  cold.setAttribute('cx', px + cs[0]); cold.setAttribute('cy', py + cs[1]); cold.setAttribute('r', cs[2]); cold.setAttribute('fill', '#fffbe6');
  
  
  hotSpots[k].forEach(hs => {
    const c = el('circle', blobs);
    c.setAttribute('cx', px + hs[0]); c.setAttribute('cy', py + hs[1]); c.setAttribute('r', hs[2]); c.setAttribute('fill', hs[3]); c.setAttribute('opacity', '0.9');
    
    
  });
  [[113, 49, 'hatchH', 0], [48, 164, 'hatchD', 30], [180, 164, 'hatchD', -30]].forEach(cb => {
    const ring = el('circle', inner);
    ring.setAttribute('cx', px + cb[0]); ring.setAttribute('cy', py + cb[1]); ring.setAttribute('r', 42);
    ring.setAttribute('fill', 'none'); ring.setAttribute('stroke', '#a09070'); ring.setAttribute('stroke-width', '0.6');
    
    
    const oct = el('path', inner);
    const cx = px + cb[0], cy = py + cb[1];
    oct.setAttribute('d', 'M' + (cx - 22) + ',' + (cy - 31) + 'L' + (cx + 22) + ',' + (cy - 31) + 'L' + (cx + 31) + ',' + (cy - 21) + 'L' + (cx + 31) + ',' + (cy + 21) + 'L' + (cx + 22) + ',' + (cy + 31) + 'L' + (cx - 22) + ',' + (cy + 31) + 'L' + (cx - 31) + ',' + (cy + 21) + 'L' + (cx - 31) + ',' + (cy - 21) + 'Z');
    oct.setAttribute('fill', 'url(#' + cb[2] + ')');
    oct.setAttribute('transform', 'rotate(' + cb[3] + ' ' + cx + ' ' + cy + ')');
    
    
  });
  const ax = el('path', g);
  ax.setAttribute('d', 'M' + (px + 12) + ',' + (py + ph - 26) + 'L' + (px + 12) + ',' + (py + ph - 8) + 'L' + (px + 28) + ',' + (py + ph - 8));
  ax.setAttribute('fill', 'none'); ax.setAttribute('stroke', '#000'); ax.setAttribute('stroke-width', '0.8');
  
  
  txt(g, px + 6, py + ph - 22, 'y', 7, 'middle');
  txt(g, px + 29, py + ph - 2, 'x', 7, 'middle');
  const cbar = el('rect', g);
  cbar.setAttribute('x', px + 238); cbar.setAttribute('y', py + 14); cbar.setAttribute('width', 6); cbar.setAttribute('height', 188);
  cbar.setAttribute('fill', 'url(#cbar)'); cbar.setAttribute('stroke', '#888'); cbar.setAttribute('stroke-width', '0.4');
  
  
  txt(g, px + 238, py + 10, 'B(T)', 4.5, 'start');
  ["0.1", "0.08", "0.06", "0.04", "0.02"].forEach((s, i) => txt(g, px + 247, py + 41 + i * 32.5, s, 4, 'start'));
  const tt = txt(g, px + 116, py - 4, 'Magnetic flux density (T)', 6.5, 'middle');
  tt.setAttribute('font-weight', 'bold');
  const lb = txt(g, px + 116, py + ph + 9, lab, 10, 'middle');
  lb.setAttribute('font-family', 'Liberation Serif, serif');
});

// ---- Fig 1 schematic ----
(function () {
  const g = el('g');
  
  
  [[659, 915, 'hatchH', 0], [579, 1040, 'hatchD', 20], [737, 1040, 'hatchD', -20]].forEach(cb => {
    const ring = el('circle', g);
    ring.setAttribute('cx', cb[0]); ring.setAttribute('cy', cb[1]); ring.setAttribute('r', 49);
    ring.setAttribute('fill', '#fff'); ring.setAttribute('stroke', '#777'); ring.setAttribute('stroke-width', '0.8');
    
    
    const cx = cb[0], cy = cb[1];
    const oct = el('path', g);
    oct.setAttribute('d', 'M' + (cx - 26) + ',' + (cy - 34) + 'L' + (cx + 26) + ',' + (cy - 34) + 'L' + (cx + 34) + ',' + (cy - 24) + 'L' + (cx + 34) + ',' + (cy + 24) + 'L' + (cx + 26) + ',' + (cy + 34) + 'L' + (cx - 26) + ',' + (cy + 34) + 'L' + (cx - 34) + ',' + (cy + 24) + 'L' + (cx - 34) + ',' + (cy - 24) + 'Z');
    oct.setAttribute('fill', 'url(#' + cb[2] + ')');
    oct.setAttribute('transform', 'rotate(' + cb[3] + ' ' + cx + ' ' + cy + ')');
    
    
  });
  const ar = el('path', g);
  ar.setAttribute('d', 'M630,1040 L686,1040 M630,1040 l5,-3 M630,1040 l5,3 M686,1040 l-5,-3 M686,1040 l-5,3 M787,990 L787,1092 M787,990 l-3,5 M787,990 l3,5 M787,1092 l-3,-5 M787,1092 l3,-5 M777,990 L797,990 M777,1092 L797,1092');
  ar.setAttribute('stroke', '#000'); ar.setAttribute('fill', 'none'); ar.setAttribute('stroke-width', '1');
  
  
  const t1 = txt(g, 658, 1034, '5 mm', 7, 'middle'); t1.setAttribute('font-weight', 'bold');
  const t2 = txt(g, 790, 1040, '9 mm', 7, 'start'); t2.setAttribute('font-weight', 'bold');
  const lB = txt(g, 659, 965, 'Phase B: Ia×sin(2πft-2π/3)', 8, 'middle'); lB.setAttribute('fill', '#e00'); lB.setAttribute('font-weight', 'bold');
  const lA = txt(g, 570, 1096, 'Phase A: Ia×sin(2πft)', 8, 'middle'); lA.setAttribute('font-weight', 'bold');
  const lC = txt(g, 740, 1096, 'Phase C: Ia×sin(2πft-4π/3)', 8, 'middle'); lC.setAttribute('fill', '#1030e0'); lC.setAttribute('font-weight', 'bold');
})();
</script>
</body></html>
